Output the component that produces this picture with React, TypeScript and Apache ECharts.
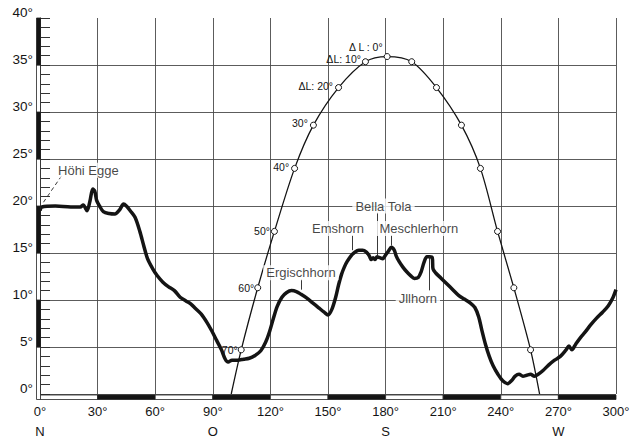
import React, { useEffect, useRef } from "react";
import * as echarts from "echarts";

// Axis ticks
const xTickValues = [0, 30, 60, 90, 120, 150, 180, 210, 240, 270, 300];
const directionAt: Record<number, string> = { 0: "N", 90: "O", 180: "S", 270: "W" };

// Horizon profile (azimuth °, altitude °)
const terrainAz = [0, 1, 8, 16, 21, 22.5, 24.5, 26, 27.5, 28.5, 29.5, 31, 33, 36, 39, 41.5, 43.5, 45, 47, 49.5, 52, 54, 56, 58.5, 61, 64, 67, 70, 73, 76, 78.5, 81, 84, 87, 89.5, 92, 94.5, 96.5, 98, 100, 103, 106, 109, 112, 115, 117.5, 119.5, 121.5, 123.5, 126, 128.5, 131, 133.5, 136, 139, 142, 145, 148, 150, 152, 154, 155.5, 157, 158.5, 160, 162, 164, 166, 168, 170, 171.5, 172.5, 173.5, 174.5, 175.5, 177, 178.5, 180, 181.5, 183, 184.5, 185.5, 187, 189, 191, 193, 195, 197, 198.5, 200, 201.5, 203, 204.3, 204.7, 206, 209, 212, 215, 218, 221, 224, 226.5, 228.5, 230, 232, 234, 236, 238.5, 241, 243.5, 245.5, 247.5, 249.5, 251.5, 253.5, 255.5, 257.5, 259.5, 262, 265, 268, 271, 274, 275.5, 277, 279, 281.5, 284, 287, 290, 293, 296, 298.5, 300];
const terrainAlt = [19.5, 19.9, 20.0, 19.9, 19.9, 20.1, 19.5, 20.5, 21.8, 21.6, 20.6, 20.0, 19.4, 19.2, 19.15, 19.6, 20.2, 20.0, 19.5, 18.8, 17.3, 15.8, 14.4, 13.4, 12.6, 11.9, 11.4, 11.0, 10.3, 9.9, 9.6, 9.1, 8.5, 7.6, 6.7, 5.7, 4.7, 3.7, 3.4, 3.6, 3.6, 3.7, 3.8, 4.1, 4.6, 5.5, 6.6, 8.0, 9.3, 10.3, 10.8, 11.0, 10.9, 10.6, 10.2, 9.7, 9.2, 8.7, 8.4, 9.0, 10.3, 11.6, 12.7, 13.5, 14.1, 14.7, 15.1, 15.3, 15.3, 15.1, 14.7, 14.3, 14.5, 14.3, 14.6, 14.5, 14.4, 14.8, 15.2, 15.6, 15.3, 14.7, 14.1, 13.5, 13.0, 12.6, 12.3, 12.4, 13.0, 14.0, 14.6, 14.6, 14.5, 13.3, 12.9, 12.3, 11.7, 11.1, 10.5, 10.1, 9.7, 9.2, 8.2, 6.9, 5.3, 4.0, 3.0, 2.1, 1.4, 1.1, 1.4, 1.9, 2.1, 1.9, 2.0, 2.1, 1.9, 2.1, 2.5, 3.1, 3.6, 4.0, 4.7, 5.1, 4.7, 5.3, 6.0, 6.6, 7.4, 8.1, 8.7, 9.4, 10.3, 11.1];

// Sun path (azimuth °, altitude °) with marker labels
const sunAz = [99.6, 104.8, 113.4, 122.1, 132.6, 142.4, 155.5, 169.5, 180.8, 193.6, 206.5, 219.5, 229.4, 238.3, 246.8, 255.5, 260.2];
const sunAlt = [0, 4.7, 11.3, 17.3, 24.0, 28.6, 32.6, 35.35, 35.9, 35.35, 32.6, 28.6, 24.0, 17.3, 11.3, 4.7, 0];
const sunLabels = ["", "70°", "60°", "50°", "40°", "30°", "ΔL: 20°", "ΔL: 10°", "Δ L : 0°", "", "", "", "", "", "", "", ""];

// Peak names
const peakNames = ["Höhi Egge", "Bella Tola", "Emshorn", "Meschlerhorn", "Ergischhorn", "Jllhorn"];
const peakTextAz = [25.2, 178.9, 155.2, 197.3, 135.9, 196.8];
const peakTextAlt = [23.8, 20.0, 17.6, 17.6, 12.9, 10.2];
const leaderAz1 = [11.2, 175.6, 162.6, 183, 136, 202.5];
const leaderAlt1 = [23.2, 19.3, 16.9, 16.9, 12.2, 11.0];
const leaderAz2 = [1.8, 175.6, 162.6, 183, 136, 202.5];
const leaderAlt2 = [20.4, 14.6, 15.3, 15.8, 11.1, 14.7];

// Scale strips
const xBandStart = [0, 30, 60, 90, 120, 150, 180, 210, 240, 270];
const xBandEnd = [30, 60, 90, 120, 150, 180, 210, 240, 270, 300];
const xBandBlack = [0, 1, 0, 1, 0, 1, 0, 1, 0, 1];
const yBandStart = [0, 5, 10, 15, 20, 25, 30, 35];
const yBandEnd = [5, 10, 15, 20, 25, 30, 35, 40];
const yBandBlack = [0, 1, 0, 1, 0, 1, 0, 1];

const FONT = "'Liberation Sans', Arial, Helvetica, sans-serif";
const INK = "#141414";

export default function App() {
  const ref = useRef<HTMLDivElement>(null);

  useEffect(() => {
    if (!ref.current) return;
    const chart = echarts.init(ref.current, undefined, { renderer: "svg" });

    const labelOffsets: Record<number, any> = {
      1: { distance: 0, offset: [0, 0] },
      2: { distance: 0, offset: [0, 0] },
      3: { distance: 1, offset: [0, 0] },
      4: { distance: 2, offset: [0, -1] },
      5: { distance: 2, offset: [0, -2] },
      6: { distance: 2, offset: [0, -2] },
      7: { distance: 1, offset: [0, -3] },
      8: { distance: 2, offset: [1, -10] },
    };

    const sunData = sunAz.map((az, i) => {
      const lbl = sunLabels[i];
      const isEnd = sunAlt[i] === 0;
      const item: any = { value: [az, sunAlt[i]] };
      if (isEnd) item.symbol = "none";
      if (lbl) {
        const o = labelOffsets[i] || { distance: 2, offset: [0, 0] };
        item.label = {
          show: true,
          formatter: lbl,
          position: "left",
          distance: o.distance,
          offset: o.offset,
          fontSize: 10.5,
          color: INK,
          fontFamily: FONT,
        };
      }
      return item;
    });

    const option: any = {
      animation: false,
      backgroundColor: "#fff",
      grid: { left: 40, right: 19, top: 18, bottom: 42, containLabel: false },
      xAxis: {
        type: "value",
        min: 0,
        max: 300,
        interval: 30,
        axisLine: { show: false },
        axisTick: { show: false },
        splitLine: { show: true, lineStyle: { color: "#4a4a4a", width: 0.9 } },
        axisLabel: {
          margin: 7,
          fontSize: 13,
          lineHeight: 20,
          color: INK,
          fontFamily: FONT,
          formatter: (v: number) => {
            if (!xTickValues.includes(v)) return "";
            const d = directionAt[v];
            return d ? `${v}°\n${d}` : `${v}°`;
          },
        },
      },
      yAxis: {
        type: "value",
        min: 0,
        max: 40,
        interval: 5,
        axisLine: { show: true, lineStyle: { color: "#222", width: 1 } },
        axisTick: { show: true, inside: true, length: 10, lineStyle: { color: "#333", width: 1 } },
        minorTick: { show: true, splitNumber: 5, length: 10, lineStyle: { color: "#333", width: 1 } },
        splitLine: { show: true, showMaxLine: false, lineStyle: { color: "#4a4a4a", width: 0.9 } },
        axisLabel: {
          margin: 7,
          fontSize: 13.5,
          lineHeight: 11,
          verticalAlign: "bottom",
          color: INK,
          fontFamily: FONT,
          formatter: "{value}°",
        },
      },
      series: [
        {
          type: "line",
          name: "terrain",
          data: terrainAz.map((a, i) => [a, terrainAlt[i]]),
          showSymbol: false,
          smooth: 0.3,
          lineStyle: { color: INK, width: 3.5 },
          z: 3,
          silent: true,
        },
        {
          type: "line",
          name: "sun",
          data: sunData,
          smooth: 0.3,
          symbol: "circle",
          symbolSize: 6,
          showAllSymbol: true,
          itemStyle: { color: "#fff", borderColor: INK, borderWidth: 1 },
          lineStyle: { color: INK, width: 1.3 },
          z: 4,
          silent: true,
        },
        {
          type: "lines",
          coordinateSystem: "cartesian2d",
          silent: true,
          z: 5,
          lineStyle: { color: "#222", width: 0.9, opacity: 1 },
          data: peakNames.map((n, i) => ({
            coords: [
              [leaderAz1[i], leaderAlt1[i]],
              [leaderAz2[i], leaderAlt2[i]],
            ],
            lineStyle: i === 0 ? { type: [4, 3], color: "#222", width: 0.9 } : undefined,
          })),
        },
        {
          type: "scatter",
          name: "peaks",
          symbolSize: 1,
          itemStyle: { color: "rgba(0,0,0,0)" },
          silent: true,
          z: 6,
          data: peakNames.map((n, i) => ({ name: n, value: [peakTextAz[i], peakTextAlt[i]] })),
          label: {
            show: true,
            position: "inside",
            formatter: "{b}",
            fontSize: 13,
            color: INK,
            fontFamily: FONT,
            backgroundColor: "#fff",
            padding: [1, 3],
          },
        },
        {
          type: "custom",
          name: "xstrip",
          coordinateSystem: "cartesian2d",
          clip: false,
          silent: true,
          z: 7,
          encode: { x: [0, 1], y: 2 },
          data: xBandStart.map((s, i) => [s, xBandEnd[i], xBandBlack[i]]),
          renderItem: (params: any, api: any) => {
            const a = api.coord([api.value(0), 0]);
            const b = api.coord([api.value(1), 0]);
            return {
              type: "rect",
              shape: { x: a[0], y: a[1] + 1, width: b[0] - a[0], height: 4.5 },
              style: { fill: api.value(2) ? INK : "#fff", stroke: "#222", lineWidth: 0.8 },
            };
          },
        },
        {
          type: "custom",
          name: "ystrip",
          coordinateSystem: "cartesian2d",
          clip: false,
          silent: true,
          z: 7,
          encode: { x: 2, y: [0, 1] },
          data: yBandStart.map((s, i) => [s, yBandEnd[i], yBandBlack[i]]),
          renderItem: (params: any, api: any) => {
            const a = api.coord([0, api.value(0)]);
            const b = api.coord([0, api.value(1)]);
            const extra = api.value(0) === 0 ? 5.5 : 0;
            return {
              type: "rect",
              shape: { x: a[0] - 3.5, y: b[1], width: 4, height: a[1] - b[1] + extra },
              style: { fill: api.value(2) ? INK : "#fff", stroke: "#222", lineWidth: 0.8 },
            };
          },
        },
      ],
    };

    chart.setOption(option);
    return () => chart.dispose();
  }, []);

  return (
    <div
      ref={ref}
      style={{ position: "fixed", left: 0, top: 0, width: 635, height: 441, background: "#fff" }}
    />
  );
}
